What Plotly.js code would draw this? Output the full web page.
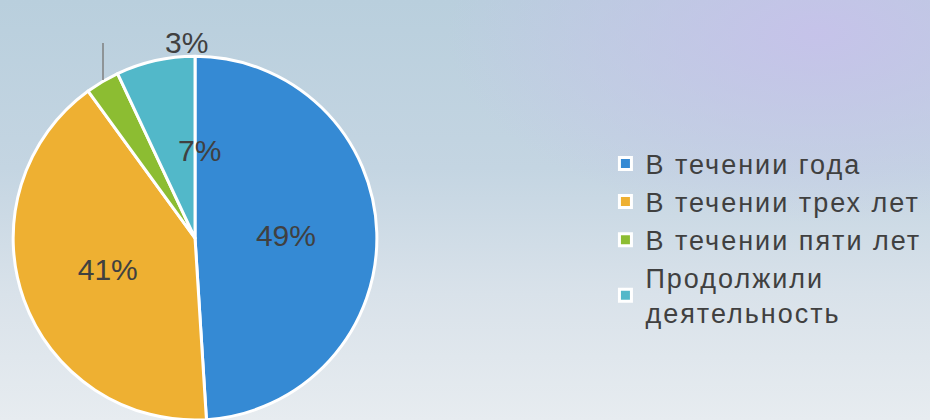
<!DOCTYPE html>
<html><head><meta charset="utf-8">
<script src="https://cdn.plot.ly/plotly-3.0.1.min.js"></script>
<style>
html,body{margin:0;padding:0;}
body{width:930px;height:420px;overflow:hidden;
background:
 radial-gradient(ellipse 40% 45% at 88% 8%, rgba(198,194,234,0.95) 0%, rgba(198,194,234,0) 100%),
 linear-gradient(180deg,#b9cfdd 0%,#c4d5e2 40%,#d9e2ea 70%,#e7ecf0 100%);}
#chart{width:930px;height:420px;}
.legendtext{letter-spacing:2px;}
</style></head>
<body><div id="chart"></div>
<script>
const categories = ["В течении года","В течении трех лет","В течении пяти лет","Продолжили<br>деятельность"];
const values = [49, 41, 3, 7];
const colors = ["#358ad4","#eeb032","#8cbd32","#52b8c9"];
const labelPos = ["inside","inside","none","none"];

const FONT = "Liberation Sans, Arial, sans-serif";

const trace = {
  type: "pie",
  labels: categories,
  values: values,
  sort: false,
  direction: "clockwise",
  rotation: 0,
  marker: {colors: colors, line: {color: "#ffffff", width: 3}},
  textinfo: "percent",
  texttemplate: "%{value}%",
  textposition: labelPos,
  insidetextorientation: "horizontal",
  textfont: {family: FONT, size: 30, color: "#404040"},
  domain: {x: [0.0129, 0.4065], y: [0.0, 0.866]},
  hoverinfo: "label+percent"
};

const layout = {
  width: 930, height: 420,
  margin: {l: 0, r: 0, t: 0, b: 0},
  paper_bgcolor: "rgba(0,0,0,0)",
  plot_bgcolor: "rgba(0,0,0,0)",
  showlegend: true,
  legend: {
    x: 0.651, y: 0.668, xanchor: "left", yanchor: "top",
    font: {family: FONT, size: 27, color: "#404040"},
    bgcolor: "rgba(0,0,0,0)", itemwidth: 30, tracegroupgap: 0
  },
  annotations: [
    {text: values[2] + "%", x: 163/930, y: 1 - 24/420, xref: "paper", yref: "paper",
     showarrow: false, font: {family: FONT, size: 30, color: "#404040"}},
    {text: values[3] + "%", x: 176/930, y: 1 - 150/420, xref: "paper", yref: "paper",
     showarrow: false, font: {family: FONT, size: 30, color: "#404040"}}
  ],
  shapes: [
    {type: "line", xref: "paper", yref: "paper", x0: 103/930, x1: 103/930, y0: 1 - 43/420, y1: 1 - 80/420,
     line: {color: "#7f7f7f", width: 1.5}}
  ]
};

Plotly.newPlot("chart", [trace], layout, {displayModeBar: false, staticPlot: true});
</script>
</body></html>
